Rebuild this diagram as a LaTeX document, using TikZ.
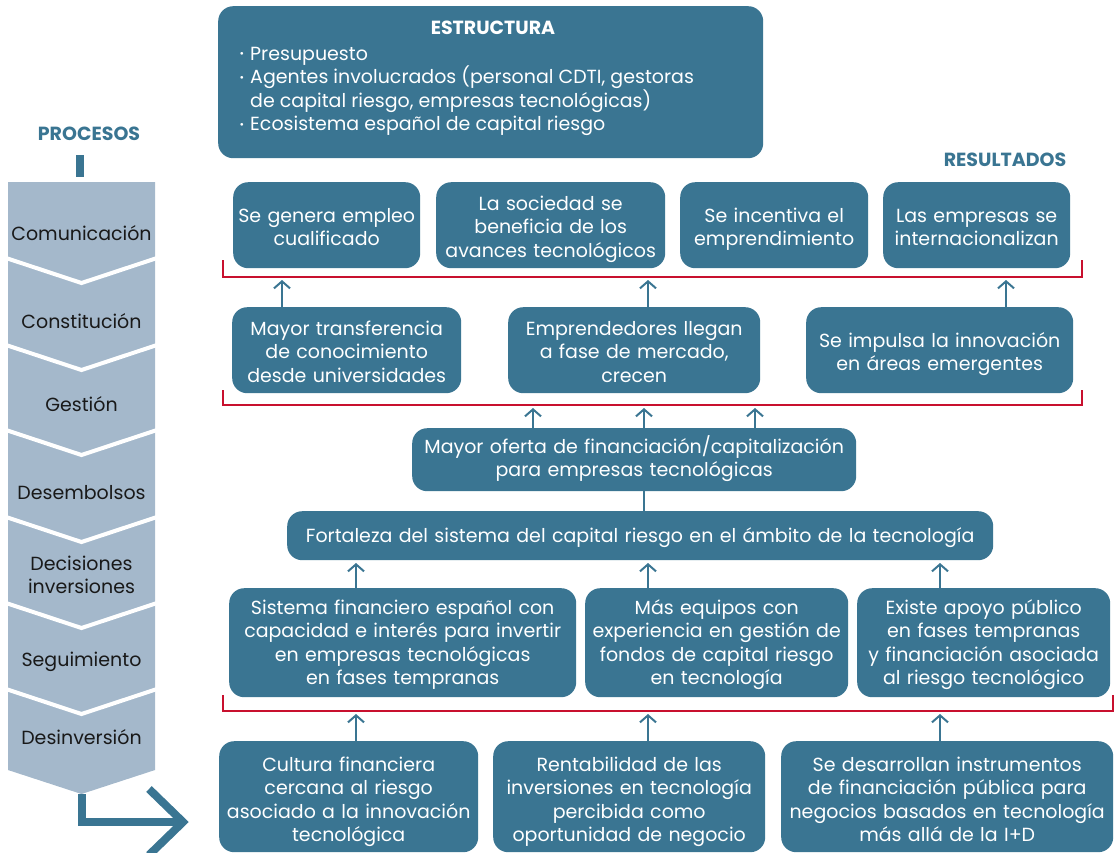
\documentclass[tikz,border=0pt]{standalone}
\usepackage{fontspec}
\setmainfont{Poppins}
\usetikzlibrary{arrows.meta}
\definecolor{teal}{HTML}{3A7592}
\definecolor{chev}{HTML}{A4B8CB}
\definecolor{redb}{HTML}{C8102E}
\tikzset{
  box/.style={fill=teal, rounded corners=15pt, text=white, align=center, inner sep=0pt, anchor=north west,
    font=\fontsize{19}{23.5}\selectfont},
  arr/.style={draw=teal, line width=2pt, -{Straight Barb[length=7pt,width=16pt,line width=2pt]}},
  lnk/.style={draw=teal, line width=2pt},
  brk/.style={draw=redb, line width=2.4pt},
  chevtxt/.style={font=\fontsize{19}{23.5}\selectfont, text=black!90, align=center},
  lbl/.style={font=\fontsize{19}{20}\selectfont\bfseries, text=teal}
}
\newcommand{\bx}[7]{\node[box, minimum width=#4pt-#2pt, minimum height=#5pt-#3pt, text width=#4pt-#2pt-2pt] (#1) at (#2,#3)
  {\raisebox{-#6pt}[\height][\depth]{\begin{tabular}{@{}c@{}}#7\end{tabular}}};}
\newcommand{\bul}{{\fontsize{11}{11}\selectfont\raisebox{2.5pt}{•}}\hspace{6pt}}
\begin{document}
\begin{tikzpicture}[x=1pt,y=-1pt]
\useasboundingbox (0,0) rectangle (1115,852);
% process column
\path[fill=chev] (8,182) -- (155,182) -- (155,770) -- (81.5,794) -- (8,770) -- cycle;
\foreach \yy in {258,345,430,517,603,689}{
  \draw[white, line width=4pt] (6,\yy) -- (81.5,\yy+25) -- (157,\yy);
}
\node[lbl] (proc) at (89,134) {PROCESOS};
\fill[teal] (76,155) rectangle (84,177);
\node[chevtxt] (c1) at (81.5,233) {Comunicación};
\node[chevtxt] (c2) at (81.5,321) {Constitución};
\node[chevtxt] (c3) at (81.5,404) {Gestión};
\node[chevtxt] (c4) at (81.5,493) {Desembolsos};
\node[chevtxt] (c5) at (81.5,575) {Decisiones\\inversiones};
\node[chevtxt] (c6) at (81.5,662) {Seguimiento};
\node[chevtxt] (c7) at (81.5,737) {Desinversión};
\draw[teal, line width=8pt, line join=miter] (82,794) -- (82,822) -- (184,822);
\draw[teal, line width=8pt, line join=miter] (149,789) -- (183,822) -- (149,855);
% estructura
\node[box, minimum width=545pt, minimum height=152pt] (est) at (218,6) {};
\node[lbl, text=white] (estt) at (493,27.5) {ESTRUCTURA};
\node[anchor=north west, text=white, align=left, inner sep=0pt, font=\fontsize{19}{23.5}\selectfont] (estl) at (239.5,47)
 {\bul Presupuesto\\
  \bul Agentes involucrados (personal CDTI, gestoras\\
  \hphantom{\bul}de capital riesgo, empresas tecnológicas)\\
  \bul Ecosistema español de capital riesgo};
\node[lbl] (res) at (1005,160) {RESULTADOS};
% row 1
\bx{r1a}{233}{182}{420}{268}{4}{Se genera empleo\\cualificado}
\bx{r1b}{436}{182}{665}{268}{4}{La sociedad se\\beneficia de los\\avances tecnológicos}
\bx{r1c}{680}{182}{868}{268}{4}{Se incentiva el\\emprendimiento}
\bx{r1d}{883}{182}{1070}{268}{4}{Las empresas se\\internacionalizan}
% row 2
\bx{r2a}{232}{307}{461}{393}{4}{Mayor transferencia\\de conocimiento\\desde universidades}
\bx{r2b}{508}{307}{760}{393}{4}{Emprendedores llegan\\a fase de mercado,\\crecen}
\bx{r2c}{806}{307}{1073}{393}{4}{Se impulsa la innovación\\en áreas emergentes}
% middle
\bx{m}{412}{428}{856}{491}{0}{Mayor oferta de financiación/capitalización\\para empresas tecnológicas}
\bx{f}{287}{511}{993}{560}{2}{Fortaleza del sistema del capital riesgo en el ámbito de la tecnología}
% row 4
\bx{r4a}{229}{588}{576}{697}{2}{Sistema financiero español con\\capacidad e interés para invertir\\en empresas tecnológicas\\en fases tempranas}
\bx{r4b}{585}{588}{848}{697}{2}{Más equipos con\\experiencia en gestión de\\fondos de capital riesgo\\en tecnología}
\bx{r4c}{857}{588}{1110}{697}{2}{Existe apoyo público\\en fases tempranas\\y financiación asociada\\al riesgo tecnológico}
% row 5
\bx{r5a}{219}{741}{478}{852}{5}{Cultura financiera\\cercana al riesgo\\asociado a la innovación\\tecnológica}
\bx{r5b}{493}{741}{765}{852}{5}{Rentabilidad de las\\inversiones en tecnología\\percibida como\\oportunidad de negocio}
\bx{r5c}{781}{741}{1113}{852}{5}{Se desarrollan instrumentos\\de financiación pública para\\negocios basados en tecnología\\más allá de la I+D}
% brackets
\coordinate (b1l) at (223,260); \coordinate (b1r) at (1082,260); \coordinate (b1) at (0,277);
\coordinate (b2l) at (223,390); \coordinate (b2r) at (1082,390); \coordinate (b2) at (0,405);
\coordinate (b3l) at (223,695); \coordinate (b3r) at (1113,695); \coordinate (b3) at (0,711);
\draw[brk] (b1l) -- (b1l |- b1) -- (b1r |- b1) -- (b1r);
\draw[brk] (b2l) -- (b2l |- b2) -- (b2r |- b2) -- (b2r);
\draw[brk] (b3l) -- (b3l |- b3) -- (b3r |- b3) -- (b3r);
% arrow x positions
\coordinate (xa) at (282,0); \coordinate (xb) at (648,0); \coordinate (xc) at (1006,0);
\coordinate (xd) at (533,0); \coordinate (xe) at (644,0); \coordinate (xf) at (755,0);
\coordinate (xg) at (356,0); \coordinate (xh) at (940,0);
\coordinate (t1) at (0,280); \coordinate (t2) at (0,408); \coordinate (t3) at (0,563); \coordinate (t4) at (0,714);
\draw[arr] (r2a.north -| xa) -- (t1 -| xa);
\draw[arr] (r2b.north -| xb) -- (t1 -| xb);
\draw[arr] (r2c.north -| xc) -- (t1 -| xc);
\draw[arr] (m.north -| xd) -- (t2 -| xd);
\draw[arr] (m.north -| xe) -- (t2 -| xe);
\draw[arr] (m.north -| xf) -- (t2 -| xf);
\draw[lnk] (f.north -| xe) -- (m.south -| xe);
\draw[arr] (r4a.north -| xg) -- (t3 -| xg);
\draw[arr] (r4b.north -| xb) -- (t3 -| xb);
\draw[arr] (r4c.north -| xh) -- (t3 -| xh);
\draw[arr] (r5a.north -| xg) -- (t4 -| xg);
\draw[arr] (r5b.north -| xb) -- (t4 -| xb);
\draw[arr] (r5c.north -| xh) -- (t4 -| xh);
\end{tikzpicture}
\end{document}
